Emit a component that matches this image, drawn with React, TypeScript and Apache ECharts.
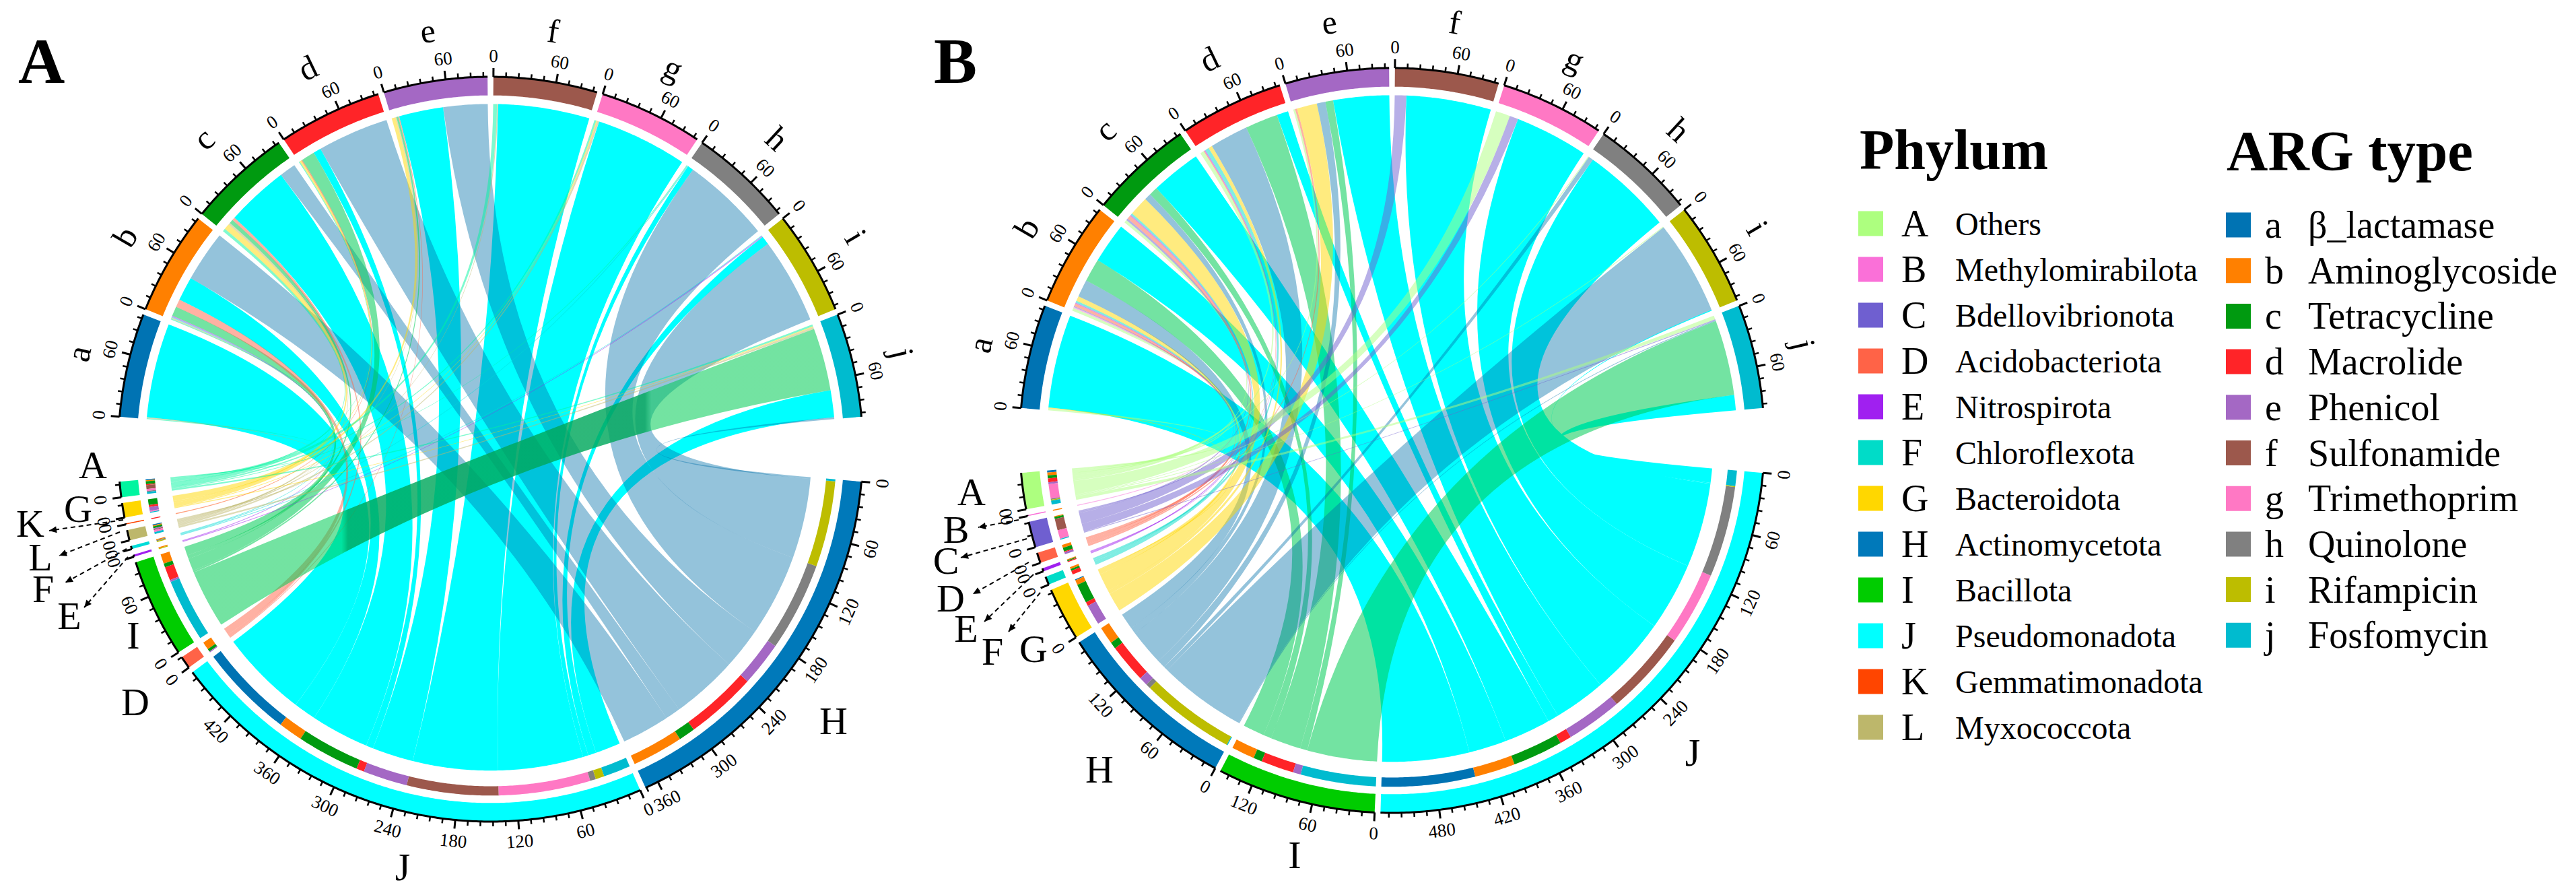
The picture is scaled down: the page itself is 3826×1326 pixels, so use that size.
import React, { useEffect, useRef } from "react";
import * as echarts from "echarts";

const argLetters = ["a", "b", "c", "d", "e", "f", "g", "h", "i", "j"];
const argNames = ["β_lactamase", "Aminoglycoside", "Tetracycline", "Macrolide", "Phenicol", "Sulfonamide", "Trimethoprim", "Quinolone", "Rifampicin", "Fosfomycin"];
const argColors = ["#0073B3", "#FF8000", "#009A10", "#FF2428", "#A468C4", "#9C584C", "#FF78C4", "#808080", "#BDBD00", "#00BBCF"];

const phylumLetters = ["A", "B", "C", "D", "E", "F", "G", "H", "I", "J", "K", "L"];
const phylumNames = ["Others", "Methylomirabilota", "Bdellovibrionota", "Acidobacteriota", "Nitrospirota", "Chloroflexota", "Bacteroidota", "Actinomycetota", "Bacillota", "Pseudomonadota", "Gemmatimonadota", "Myxococcota"];
const phylumColors = ["#ADFF7F", "#FA70D8", "#6F5FD0", "#FF6347", "#A020F0", "#00DCC8", "#FFD700", "#0079BA", "#00CC00", "#00FFFF", "#FF4500", "#BDB76B"];

// Panel A: phylum order clockwise round the lower half, and flow to each ARG type a..j
const panelAOrder = ["H", "J", "D", "I", "E", "F", "L", "K", "G", "A"];
const panelA_H = [0, 53, 17, 74, 46, 0, 0, 92, 89, 2];
const panelA_J = [98, 25, 65, 8, 46, 95, 95, 6, 9, 28];
const panelA_D = [0, 8, 3, 0, 1, 0, 0, 0, 0, 0];
const panelA_I = [0, 10, 4, 14, 2, 0, 0, 0, 0, 65];
const panelA_E = [0, 1, 0, 0, 0, 0, 0, 0, 1, 0];
const panelA_F = [0, 1, 0, 0, 0, 0, 0, 1, 1, 0];
const panelA_L = [1, 1, 2, 0, 1, 1, 2, 0, 0, 2];
const panelA_K = [0, 0, 0, 1, 0, 0, 0, 0, 0, 0];
const panelA_G = [0, 0, 6, 2, 4, 0, 1, 0, 0, 1];
const panelA_A = [1, 1, 3, 1, 0, 4, 2, 1, 0, 2];
const panelAFlows = [panelA_H, panelA_J, panelA_D, panelA_I, panelA_E, panelA_F, panelA_L, panelA_K, panelA_G, panelA_A];

// Panel B
const panelBOrder = ["J", "I", "H", "G", "F", "E", "D", "C", "B", "A"];
const panelB_J = [97, 42, 52, 12, 58, 88, 76, 94, 1, 16];
const panelB_I = [0, 24, 9, 34, 8, 0, 0, 0, 0, 78];
const panelB_H = [0, 18, 7, 40, 9, 0, 0, 5, 98, 1];
const panelB_G = [1, 5, 20, 4, 21, 0, 0, 0, 0, 0];
const panelB_F = [0, 2, 2, 4, 0, 0, 0, 0, 0, 0];
const panelB_E = [0, 1, 1, 1, 0, 0, 0, 0, 0, 0];
const panelB_D = [0, 3, 4, 1, 2, 0, 0, 0, 0, 0];
const panelB_C = [0, 1, 2, 0, 0, 12, 9, 0, 0, 1];
const panelB_B = [0, 1, 0, 0, 0, 0, 0, 0, 0, 0];
const panelB_A = [2, 3, 3, 4, 2, 0, 15, 1, 1, 4];
const panelBFlows = [panelB_J, panelB_I, panelB_H, panelB_G, panelB_F, panelB_E, panelB_D, panelB_C, panelB_B, panelB_A];

const SERIF = "Liberation Serif";
const R = 553;
const SMALL_GAP = 0.9;
const BIG_GAP = 10;
const START = -85;
const R_CHORD_TOP = 0.927;
const R_CHORD_BOTTOM = 0.863;
const TICK_STEP = 12;
const MAJOR_STEP = 60;

function phylumColor(letter: string, panel: string) {
  if (panel === "A" && letter === "A") return "#00F5A0";
  if (panel === "A" && letter === "F") return "#00DCD8";
  return phylumColors[phylumLetters.indexOf(letter)];
}
function linkFill(letter: string, panel: string) {
  if (letter === "I") return "#00CC55";
  if (letter === "H") return "#0070AA";
  return phylumColor(letter, panel);
}
function linkAlpha(letter: string) {
  if (letter === "J") return 1;
  if (letter === "H") return 0.42;
  if (letter === "I") return 0.55;
  return 0.5;
}
// Panel A's long band I -> j is darker across the middle of the figure
function bandGradient() {
  const pale = "rgba(0,204,85,0.55)";
  const dark = "rgba(0,168,92,0.82)";
  return new echarts.graphic.LinearGradient(277, 0, 1236, 0, [
    { offset: 0, color: pale },
    { offset: 0.24, color: pale },
    { offset: 0.25, color: dark },
    { offset: 0.71, color: dark },
    { offset: 0.72, color: pale },
    { offset: 1, color: pale },
  ], true);
}

function buildLayout(matrix: number[][], order: string[]) {
  const total = matrix.reduce((s, r) => s + r.reduce((a, b) => a + b, 0), 0);
  const unit = (360 - 2 * BIG_GAP - 18 * SMALL_GAP) / (2 * total);
  const colSum = argLetters.map((_, c) => matrix.reduce((s, r) => s + r[c], 0));
  const rowSum = matrix.map((r) => r.reduce((a, b) => a + b, 0));
  const argStart: number[] = [];
  let t = START;
  colSum.forEach((v, i) => {
    argStart[i] = t;
    t += v * unit + SMALL_GAP;
  });
  t += BIG_GAP - SMALL_GAP;
  const phyStart: number[] = [];
  rowSum.forEach((v, i) => {
    phyStart[i] = t;
    t += v * unit + SMALL_GAP;
  });
  const flows: any[] = [];
  const argCursor = argStart.slice();
  for (let c = 0; c < argLetters.length; c++) {
    for (let p = order.length - 1; p >= 0; p--) {
      const v = matrix[p][c];
      if (!v) continue;
      flows.push({ arg: c, phy: p, value: v, ta0: argCursor[c], ta1: argCursor[c] + v * unit });
      argCursor[c] += v * unit;
    }
  }
  const phyCursor = phyStart.slice();
  for (let p = 0; p < order.length; p++) {
    for (let c = argLetters.length - 1; c >= 0; c--) {
      const f = flows.find((x) => x.arg === c && x.phy === p);
      if (!f) continue;
      f.tb0 = phyCursor[p];
      f.tb1 = phyCursor[p] + f.value * unit;
      phyCursor[p] = f.tb1;
    }
  }
  const sectors: any[] = [];
  argLetters.forEach((l, i) => sectors.push({ label: l, kind: "arg", start: argStart[i], size: colSum[i], end: argStart[i] + colSum[i] * unit, color: argColors[i], unit }));
  order.forEach((l, i) => sectors.push({ label: l, kind: "phy", index: i, start: phyStart[i], size: rowSum[i], end: phyStart[i] + rowSum[i] * unit, unit }));
  flows.sort((a, b) => (order[a.phy] === "J" ? 0 : 1) - (order[b.phy] === "J" ? 0 : 1));
  return { flows, sectors };
}

const rad = (d: number) => (d * Math.PI) / 180;

function pointFn(api: any) {
  return (theta: number, r: number) => api.coord([r * Math.sin(rad(theta)), r * Math.cos(rad(theta))]);
}
function fmt(p: number[]) {
  return p[0].toFixed(2) + " " + p[1].toFixed(2);
}
function arcCmds(P: any, t0: number, t1: number, r: number) {
  const n = Math.max(1, Math.ceil(Math.abs(t1 - t0) / 0.4));
  let s = "";
  for (let i = 1; i <= n; i++) s += "L" + fmt(P(t0 + ((t1 - t0) * i) / n, r));
  return s;
}
function ringPath(P: any, t0: number, t1: number, r0: number, r1: number) {
  return "M" + fmt(P(t0, r1)) + arcCmds(P, t0, t1, r1) + "L" + fmt(P(t1, r0)) + arcCmds(P, t1, t0, r0) + "Z";
}

function linkRender(layout: any, order: string[], panel: string) {
  return (params: any, api: any) => {
    const f = layout.flows[params.dataIndex];
    const P = pointFn(api);
    const c = fmt(api.coord([0, 0]));
    const d =
      "M" + fmt(P(f.ta0, R_CHORD_TOP)) +
      arcCmds(P, f.ta0, f.ta1, R_CHORD_TOP) +
      "Q" + c + " " + fmt(P(f.tb0, R_CHORD_BOTTOM)) +
      arcCmds(P, f.tb0, f.tb1, R_CHORD_BOTTOM) +
      "Q" + c + " " + fmt(P(f.ta0, R_CHORD_TOP)) + "Z";
    const letter = order[f.phy];
    const isBand = panel === "A" && letter === "I" && f.arg === 9;
    const style = isBand
      ? { fill: bandGradient(), stroke: "none" }
      : { fill: linkFill(letter, panel), opacity: linkAlpha(letter), stroke: "none" };
    return { type: "path", shape: { pathData: d }, style };
  };
}

function sectorRender(layout: any, order: string[], panel: string) {
  return (params: any, api: any) => {
    const s = layout.sectors[params.dataIndex];
    const P = pointFn(api);
    const children: any[] = [];
    const color = s.kind === "arg" ? s.color : phylumColor(s.label, panel);
    children.push({ type: "path", shape: { pathData: ringPath(P, s.start, s.end, 0.95, 1) }, style: { fill: color } });
    if (s.kind === "phy") {
      layout.flows
        .filter((f: any) => f.phy === s.index)
        .forEach((f: any) => {
          children.push({ type: "path", shape: { pathData: ringPath(P, f.tb0, f.tb1, 0.905, 0.93) }, style: { fill: argColors[f.arg] } });
        });
    }
    // axis line
    children.push({
      type: "path",
      shape: { pathData: "M" + fmt(P(s.start, 1)) + arcCmds(P, s.start, s.end, 1) },
      style: { fill: "none", stroke: "#000", lineWidth: 3 },
    });
    for (let v = 0; v <= s.size + 0.001; v += TICK_STEP) {
      const th = s.start + v * s.unit;
      const major = v % MAJOR_STEP === 0;
      const a = P(th, 1);
      const b = P(th, 1 + (major ? 13 : 7) / R);
      children.push({
        type: "line",
        shape: { x1: a[0], y1: a[1], x2: b[0], y2: b[1] },
        style: { stroke: "#000", lineWidth: major ? 3 : 2.5 },
      });
      if (major) {
        const q = P(th, 1 + 31 / R);
        const norm = ((th + 90) % 360 + 360) % 360 - 90;
        const rot = norm < 90 ? -norm : 180 - norm;
        children.push({
          type: "text",
          x: q[0],
          y: q[1],
          rotation: rad(rot),
          style: { text: String(v), fontFamily: SERIF, fontSize: 27, fill: "#000", align: "center", verticalAlign: "middle" },
        });
      }
    }
    if (s.kind === "arg") {
      const mid = (s.start + s.end) / 2;
      const q = P(mid, 1 + 75 / R);
      children.push({
        type: "text",
        x: q[0],
        y: q[1],
        rotation: rad(-mid),
        style: { text: s.label, fontFamily: SERIF, fontSize: 50, fill: "#000", align: "center", verticalAlign: "middle" },
      });
    }
    return { type: "group", children };
  };
}

// Upright letters of the phylum sectors, placed by hand as in the figure
const labelsA: [string, number, number][] = [["A", 138, 690], ["G", 116, 755], ["K", 45, 777], ["L", 60, 827], ["F", 64, 874], ["E", 103, 914], ["I", 198, 943], ["D", 201, 1042], ["H", 1238, 1070], ["J", 598, 1287]];
const labelsB: [string, number, number][] = [["A", 1443, 730], ["B", 1420, 786], ["C", 1405, 832], ["D", 1412, 888], ["E", 1435, 933], ["F", 1474, 967], ["G", 1535, 963], ["H", 1633, 1142], ["I", 1923, 1269], ["J", 2514, 1117]];
const arrows: number[][] = [
  [183, 772, 73, 788], [178, 790, 88, 825], [188, 815, 97, 865], [190, 827, 125, 902],
  [1513, 772, 1453, 783], [1525, 800, 1427, 828], [1528, 835, 1445, 882], [1535, 853, 1462, 923], [1545, 880, 1498, 938],
];

function staticGraphics() {
  const g: any[] = [];
  const txt = (text: string, x: number, y: number, size: number, align = "left", weight = "normal") =>
    g.push({ type: "text", x, y, silent: true, style: { text, fontFamily: SERIF, fontSize: size, fontWeight: weight, fill: "#000", align, verticalAlign: "middle" } });
  txt("A", 27, 90, 96, "left", "bold");
  txt("B", 1387, 90, 96, "left", "bold");
  [...labelsA, ...labelsB].forEach(([t, x, y]) => txt(t, x, y, 58, "center"));
  arrows.forEach(([x1, y1, x2, y2]) => {
    g.push({ type: "line", silent: true, shape: { x1, y1, x2, y2 }, style: { stroke: "#000", lineWidth: 2, lineDash: [7, 5] } });
    const len = Math.hypot(x2 - x1, y2 - y1);
    const ux = (x2 - x1) / len;
    const uy = (y2 - y1) / len;
    const bx = x2 - ux * 11;
    const by = y2 - uy * 11;
    g.push({
      type: "polygon",
      silent: true,
      shape: { points: [[x2, y2], [bx - uy * 5, by + ux * 5], [bx + uy * 5, by - ux * 5]] },
      style: { fill: "#000" },
    });
  });
  txt("Phylum", 2762, 222, 84, "left", "bold");
  txt("ARG type", 3307, 224, 85, "left", "bold");
  phylumLetters.forEach((l, i) => {
    const y = 332 + 68 * i;
    g.push({ type: "rect", silent: true, shape: { x: 2760, y: y - 18.5, width: 37, height: 37 }, style: { fill: phylumColors[i] } });
    txt(l, 2824, y, 56);
    txt(phylumNames[i], 2904, y, 48);
  });
  argLetters.forEach((l, i) => {
    const y = 334 + 67.7 * i;
    g.push({ type: "rect", silent: true, shape: { x: 3306, y: y - 18.5, width: 37, height: 37 }, style: { fill: argColors[i] } });
    txt(l, 3364, y, 56);
    txt(argNames[i], 3428, y, 56);
  });
  return g;
}

function panelSeries(layout: any, order: string[], panel: string, axis: number) {
  return [
    {
      type: "custom",
      coordinateSystem: "cartesian2d",
      xAxisIndex: axis,
      yAxisIndex: axis,
      clip: false,
      silent: true,
      data: layout.flows.map((f: any) => [0, 0, f.value]),
      renderItem: linkRender(layout, order, panel),
    },
    {
      type: "custom",
      coordinateSystem: "cartesian2d",
      xAxisIndex: axis,
      yAxisIndex: axis,
      clip: false,
      silent: true,
      data: layout.sectors.map((s: any) => [0, 0, s.size]),
      renderItem: sectorRender(layout, order, panel),
    },
  ];
}

export default function App() {
  const ref = useRef<HTMLDivElement>(null);
  useEffect(() => {
    document.body.style.margin = "0";
    const chart = echarts.init(ref.current as HTMLDivElement, undefined, { renderer: "svg" });
    const la = buildLayout(panelAFlows, panelAOrder);
    const lb = buildLayout(panelBFlows, panelBOrder);
    const axisBase = { type: "value", min: -1, max: 1, show: false };
    chart.setOption({
      animation: false,
      backgroundColor: "#fff",
      grid: [
        { left: 728.5 - R, top: 667 - R, width: 2 * R, height: 2 * R },
        { left: 2067.5 - R, top: 654 - R, width: 2 * R, height: 2 * R },
      ],
      xAxis: [{ ...axisBase, gridIndex: 0 }, { ...axisBase, gridIndex: 1 }],
      yAxis: [{ ...axisBase, gridIndex: 0 }, { ...axisBase, gridIndex: 1 }],
      series: [...panelSeries(la, panelAOrder, "A", 0), ...panelSeries(lb, panelBOrder, "B", 1)],
      graphic: staticGraphics(),
    });
    return () => chart.dispose();
  }, []);
  return <div ref={ref} style={{ position: "fixed", left: 0, top: 0, width: 3826, height: 1326 }} />;
}
